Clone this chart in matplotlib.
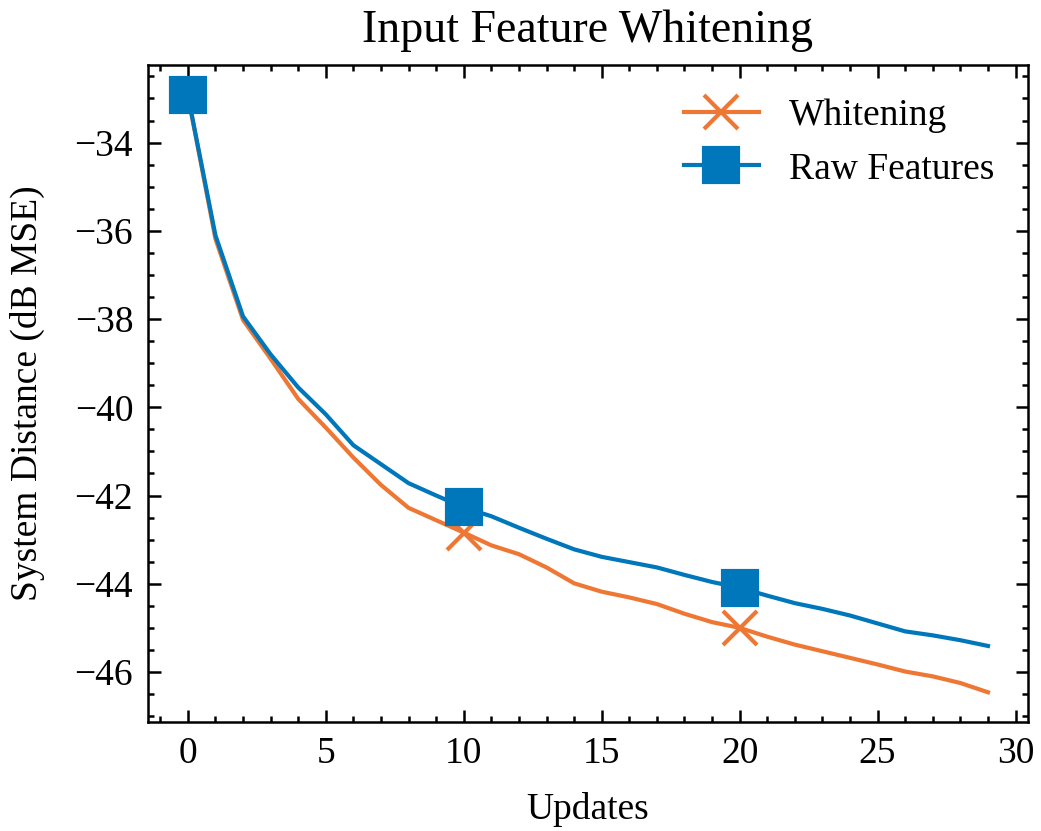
import matplotlib
matplotlib.use("Agg")
import matplotlib.pyplot as plt
from matplotlib.ticker import AutoMinorLocator

# Updates 0..29
updates = list(range(30))

whitening = [-32.92, -36.18, -38.02, -38.90, -39.81, -40.46, -41.14, -41.76, -42.28, -42.56,
             -42.84, -43.13, -43.33, -43.63, -43.99, -44.18, -44.31, -44.46, -44.68, -44.87,
             -45.00, -45.20, -45.38, -45.53, -45.68, -45.83, -45.99, -46.10, -46.25, -46.46]

raw_features = [-32.92, -36.10, -37.94, -38.80, -39.55, -40.16, -40.86, -41.29, -41.72, -42.00,
                -42.27, -42.47, -42.73, -42.98, -43.22, -43.39, -43.51, -43.63, -43.80, -43.96,
                -44.09, -44.27, -44.44, -44.57, -44.72, -44.90, -45.08, -45.17, -45.28, -45.41]

plt.rcParams['font.family'] = ['Liberation Serif', 'DejaVu Serif']
plt.rcParams['font.size'] = 9
plt.rcParams['xtick.direction'] = 'in'
plt.rcParams['ytick.direction'] = 'in'
plt.rcParams['xtick.top'] = True
plt.rcParams['ytick.right'] = True
plt.rcParams['xtick.major.size'] = 3
plt.rcParams['ytick.major.size'] = 3
plt.rcParams['xtick.minor.size'] = 1.5
plt.rcParams['ytick.minor.size'] = 1.5
plt.rcParams['xtick.major.width'] = 0.6
plt.rcParams['ytick.major.width'] = 0.6
plt.rcParams['xtick.minor.width'] = 0.6
plt.rcParams['ytick.minor.width'] = 0.6
plt.rcParams['axes.linewidth'] = 0.6

fig = plt.figure(figsize=(1041 / 300, 831 / 300), dpi=300)
ax = fig.add_axes([0.142, 0.131, 0.8455, 0.7907])

ax.plot(updates, whitening, color='#EE7733', lw=1.0, marker='x', markersize=8,
        markeredgewidth=1.0, markevery=10, label='Whitening')
ax.plot(updates, raw_features, color='#0077BB', lw=1.0, marker='s', markersize=8,
        markevery=10, label='Raw Features')

ax.xaxis.set_minor_locator(AutoMinorLocator(5))
ax.yaxis.set_minor_locator(AutoMinorLocator(4))
ax.set_xlabel('Updates', labelpad=5)
ax.set_ylabel('System Distance (dB MSE)', labelpad=7)
ax.set_title('Input Feature Whitening', fontsize=11, pad=5.5)
ax.legend(loc='upper right', frameon=False)

fig.savefig('out.png', dpi=300)
